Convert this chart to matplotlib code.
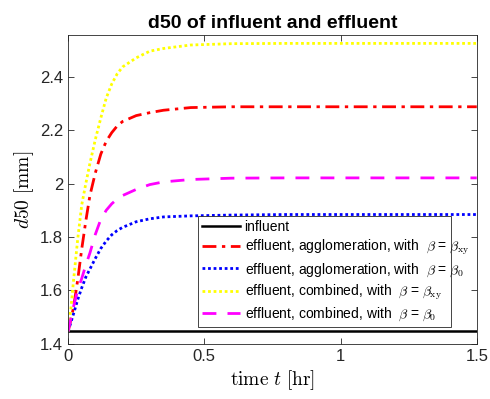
import numpy as np
import matplotlib.pyplot as plt
from matplotlib.ticker import FormatStrFormatter

plt.rcParams['font.family'] = ['Liberation Sans', 'DejaVu Sans']
plt.rcParams['mathtext.fontset'] = 'cm'

t = [0, 0.01, 0.02, 0.035, 0.05, 0.065, 0.08, 0.1, 0.12, 0.14, 0.16, 0.18, 0.2,
     0.25, 0.3, 0.35, 0.45, 0.6, 0.8, 1.0, 1.5]

influent = [1.447] * len(t)
agg_xy = [1.447, 1.49, 1.537, 1.638, 1.755, 1.86, 1.955, 2.04, 2.11, 2.158, 2.19,
          2.215, 2.232, 2.254, 2.265, 2.274, 2.284, 2.287, 2.287, 2.287, 2.287]
agg_0 = [1.447, 1.48, 1.513, 1.565, 1.61, 1.65, 1.68, 1.72, 1.757, 1.785, 1.808,
         1.824, 1.836, 1.857, 1.868, 1.875, 1.879, 1.882, 1.884, 1.884, 1.884]
comb_xy = [1.447, 1.53, 1.638, 1.79, 1.92, 2.0, 2.075, 2.165, 2.245, 2.32, 2.372,
           2.41, 2.436, 2.47, 2.495, 2.505, 2.518, 2.523, 2.524, 2.524, 2.524]
comb_0 = [1.447, 1.495, 1.54, 1.6, 1.645, 1.695, 1.74, 1.81, 1.866, 1.9, 1.924,
          1.942, 1.955, 1.978, 1.996, 2.006, 2.015, 2.02, 2.021, 2.021, 2.021]

labels = ['influent',
          r'effluent, agglomeration, with  $\beta$ = $\beta_{\mathrm{xy}}$',
          r'effluent, agglomeration, with  $\beta$ = $\beta_0$',
          r'effluent, combined, with  $\beta$ = $\beta_{\mathrm{xy}}$',
          r'effluent, combined, with  $\beta$ = $\beta_0$']

fig = plt.figure(figsize=(4.9, 3.99), dpi=100)
ax = fig.add_axes([0.139, 0.138, 0.834, 0.774])

ax.plot(t, influent, color='k', lw=1.8, label=labels[0])
ax.plot(t, agg_xy, color='red', lw=2, ls=(0, (5, 2, 1.2, 2)), label=labels[1])
ax.plot(t, agg_0, color='blue', lw=2, ls=(0, (1, 1)), label=labels[2])
ax.plot(t, comb_xy, color='yellow', lw=2, ls=(0, (1, 1)), label=labels[3])
ax.plot(t, comb_0, color='magenta', lw=2, ls=(0, (5, 4)), label=labels[4])

ax.set_xlim(0, 1.5)
ax.set_ylim(1.4, 2.555)
ax.set_xticks([0, 0.5, 1, 1.5])
ax.set_yticks([1.4, 1.6, 1.8, 2.0, 2.2, 2.4])
ax.xaxis.set_major_formatter(FormatStrFormatter('%g'))
ax.yaxis.set_major_formatter(FormatStrFormatter('%g'))
ax.tick_params(direction='in', top=True, right=True, length=4, width=0.6,
               labelsize=12, colors='#262626')
for s in ax.spines.values():
    s.set_linewidth(0.6)
    s.set_color('#262626')

ax.set_title('d50 of influent and effluent', fontsize=14, fontweight='bold', pad=5)
ax.set_xlabel(r'$\mathrm{time}\ t\ [\mathrm{hr}]$', fontsize=14, labelpad=3)
ax.set_ylabel(r'$d50\ [\mathrm{mm}]$', fontsize=14, labelpad=3)

leg = ax.legend(loc='lower left', bbox_to_anchor=(0.318, 0.055, 0.619, 0.353),
                mode='expand', fontsize=10, handlelength=2.8, handletextpad=0.3,
                borderpad=0.25, labelspacing=0.3, fancybox=False, framealpha=1,
                borderaxespad=0)
leg.get_frame().set_edgecolor('#262626')
leg.get_frame().set_linewidth(0.6)

fig.savefig('out.png', dpi=100)
